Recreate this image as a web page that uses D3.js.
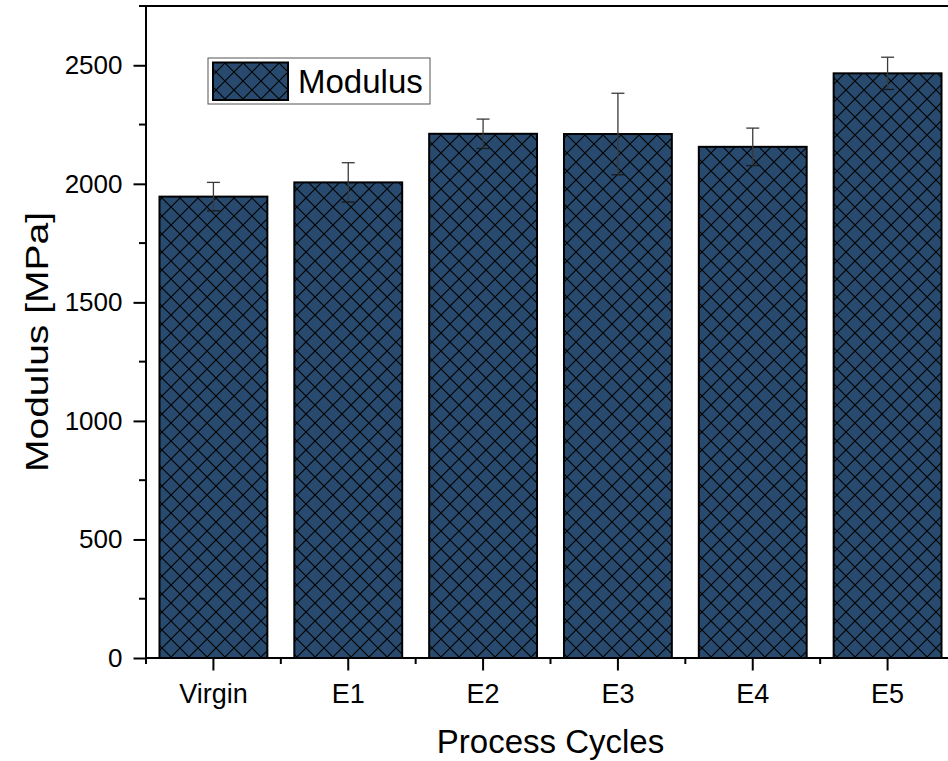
<!DOCTYPE html>
<html>
<head>
<meta charset="utf-8">
<script src="https://cdn.jsdelivr.net/npm/d3@7"></script>
<style>
  body { margin: 0; background: #fff; }
  text { font-family: Arial, "Liberation Sans", sans-serif; fill: #000; }
</style>
</head>
<body>
<div id="chart"></div>
<script>
// data
var categories = ["Virgin", "E1", "E2", "E3", "E4", "E5"];
var modulus = [1946, 2006, 2211, 2210, 2156, 2466];
var modulusErr = [60, 83, 62, 172, 79, 68];
var yTicks = [0, 500, 1000, 1500, 2000, 2500];
var yMinor = [250, 750, 1250, 1750, 2250, 2750];

var barColor = "#274a6e";
var W = 948, H = 761;
var plotLeft = 146, plotRight = 955, plotTop = 6, plotBottom = 658;

var svg = d3.select("#chart").append("svg")
    .attr("width", W)
    .attr("height", H)
    .style("display", "block");

var defs = svg.append("defs");
var pat = defs.append("pattern")
    .attr("id", "hatch")
    .attr("patternUnits", "userSpaceOnUse")
    .attr("width", 18)
    .attr("height", 18);
pat.append("rect").attr("width", 18).attr("height", 18).attr("fill", barColor);
pat.append("path")
    .attr("d", "M0,0L18,18M0,18L18,0M-2,2L2,-2M16,20L20,16M-2,16L2,20M16,-2L20,2")
    .attr("stroke", "#000")
    .attr("stroke-width", 1.1)
    .attr("fill", "none");

var x = d3.scaleBand()
    .domain(categories)
    .range([plotLeft, plotRight])
    .paddingInner(0.2)
    .paddingOuter(0.1);
var y = d3.scaleLinear()
    .domain([0, 2750])
    .range([plotBottom, plotTop]);

var data = categories.map(function (c, i) {
    return { cat: c, v: modulus[i], e: modulusErr[i] };
});

// bars
svg.append("g").selectAll("rect")
    .data(data)
    .enter().append("rect")
    .attr("x", function (d) { return x(d.cat); })
    .attr("y", function (d) { return y(d.v); })
    .attr("width", x.bandwidth())
    .attr("height", function (d) { return y(0) - y(d.v); })
    .attr("fill", "url(#hatch)")
    .attr("stroke", "#000")
    .attr("stroke-width", 2);

// error bars
var eb = svg.append("g").selectAll("g")
    .data(data)
    .enter().append("g")
    .attr("transform", function (d) { return "translate(" + (x(d.cat) + x.bandwidth() / 2) + ",0)"; });
eb.append("line")
    .attr("y1", function (d) { return y(d.v + d.e); })
    .attr("y2", function (d) { return y(d.v - d.e); })
    .attr("stroke", "#3a3a3a")
    .attr("stroke-width", 1.3);
eb.append("line")
    .attr("x1", -6.5).attr("x2", 6.5)
    .attr("y1", function (d) { return y(d.v + d.e); })
    .attr("y2", function (d) { return y(d.v + d.e); })
    .attr("stroke", "#3a3a3a")
    .attr("stroke-width", 1.3);
eb.append("line")
    .attr("x1", -6.5).attr("x2", 6.5)
    .attr("y1", function (d) { return y(d.v - d.e); })
    .attr("y2", function (d) { return y(d.v - d.e); })
    .attr("stroke", "#1a1a1a")
    .attr("stroke-width", 1.3);

// y axis
var yAxis = svg.append("g")
    .attr("transform", "translate(" + (plotLeft - 0.5) + ",0)")
    .call(d3.axisLeft(y).tickValues(yTicks).tickFormat(d3.format("d"))
        .tickSize(12).tickPadding(11).tickSizeOuter(0));
yAxis.select(".domain").remove();
yAxis.selectAll("line").attr("stroke", "#000").attr("stroke-width", 2);
yAxis.selectAll("text").style("font-size", "26px").style("font-family", "Arial, 'Liberation Sans', sans-serif");
svg.append("g").selectAll("line")
    .data(yMinor)
    .enter().append("line")
    .attr("x1", plotLeft - 7).attr("x2", plotLeft)
    .attr("y1", function (d) { return y(d); })
    .attr("y2", function (d) { return y(d); })
    .attr("stroke", "#000")
    .attr("stroke-width", 2);

// x axis
var xAxis = svg.append("g")
    .attr("transform", "translate(0," + (plotBottom + 0.5) + ")")
    .call(d3.axisBottom(x).tickSize(12).tickPadding(13).tickSizeOuter(0));
xAxis.select(".domain").remove();
xAxis.selectAll("line").attr("stroke", "#000").attr("stroke-width", 2);
xAxis.selectAll("text").style("font-size", "27px").style("font-family", "Arial, 'Liberation Sans', sans-serif");
svg.append("g").selectAll("line")
    .data(categories)
    .enter().append("line")
    .attr("x1", function (d) { return x(d) - x.step() * 0.1; })
    .attr("x2", function (d) { return x(d) - x.step() * 0.1; })
    .attr("y1", plotBottom).attr("y2", plotBottom + 6)
    .attr("stroke", "#000")
    .attr("stroke-width", 2);

// frame lines
svg.append("line").attr("x1", plotLeft).attr("x2", plotLeft).attr("y1", plotTop - 1).attr("y2", plotBottom + 1)
    .attr("stroke", "#000").attr("stroke-width", 2);
svg.append("line").attr("x1", plotLeft - 1).attr("x2", W).attr("y1", plotBottom).attr("y2", plotBottom)
    .attr("stroke", "#000").attr("stroke-width", 2);
svg.append("line").attr("x1", plotLeft - 1).attr("x2", W).attr("y1", plotTop).attr("y2", plotTop)
    .attr("stroke", "#000").attr("stroke-width", 2);

// axis titles
svg.append("text")
    .attr("x", (plotLeft + plotRight) / 2)
    .attr("y", 753)
    .attr("text-anchor", "middle")
    .style("font-size", "33px")
    .text("Process Cycles");
svg.append("text")
    .attr("transform", "translate(48," + 342 + ") rotate(-90)")
    .attr("text-anchor", "middle")
    .attr("textLength", 260)
    .attr("lengthAdjust", "spacingAndGlyphs")
    .style("font-size", "31px")
    .text("Modulus [MPa]");

// legend
var lg = svg.append("g");
lg.append("rect")
    .attr("x", 208).attr("y", 58)
    .attr("width", 222).attr("height", 46)
    .attr("fill", "#fff")
    .attr("stroke", "#555")
    .attr("stroke-width", 1);
lg.append("rect")
    .attr("x", 213).attr("y", 62.5)
    .attr("width", 75).attr("height", 37.5)
    .attr("fill", "url(#hatch)")
    .attr("stroke", "#000")
    .attr("stroke-width", 2);
lg.append("text")
    .attr("x", 298).attr("y", 93)
    .style("font-size", "33px")
    .text("Modulus");
</script>
</body>
</html>
